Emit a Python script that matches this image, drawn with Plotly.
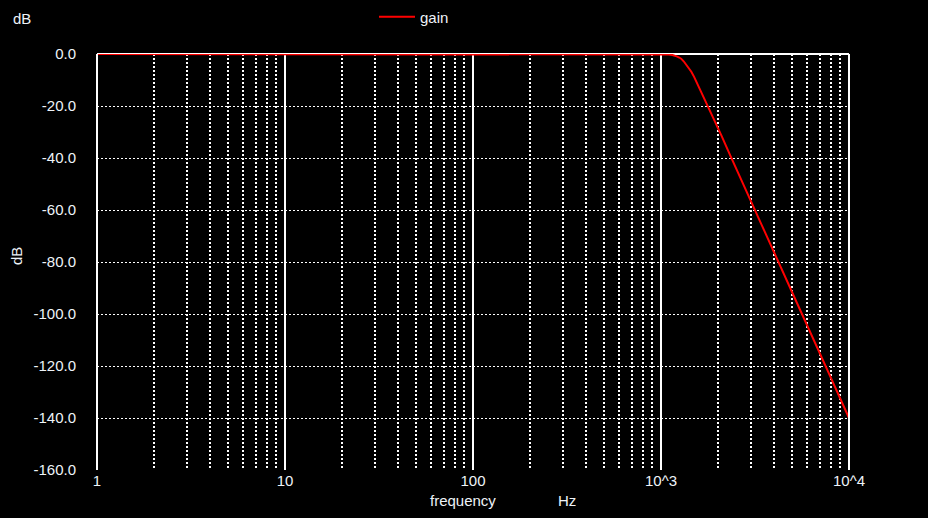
import plotly.graph_objects as go

# Frequency (Hz) and gain (dB)
frequency = [1, 10, 100, 500, 1000, 1100, 1150, 1180, 1212, 1250, 1280, 1320, 1370,
             1400, 1450, 1500, 1546, 1600, 1650, 1700, 1785, 1900, 1977, 2100,
             2328, 2600, 2974, 3646, 4120, 5597, 7447, 10000]
gain_db = [0.0, 0.0, 0.0, 0.0, -0.05, -0.2, -0.4, -0.55, -0.9, -1.35, -1.8, -2.8, -4.3,
           -5.0, -6.8, -8.8, -10.8, -12.9, -14.9, -16.9, -20.3, -24.6, -27.4, -31.5,
           -38.8, -46.4, -55.7, -70.0, -78.5, -99.7, -119.5, -140.0]

x_tick_vals = [1, 10, 100, 1000, 10000]
x_tick_text = ["1", "10", "100", "10^3", "10^4"]
y_tick_vals = [0, -20, -40, -60, -80, -100, -120, -140, -160]
y_tick_text = ["0.0", "-20.0", "-40.0", "-60.0", "-80.0", "-100.0", "-120.0", "-140.0", "-160.0"]

TXT = "#eef3f8"
FONT = "Liberation Sans, Arial, sans-serif"

fig = go.Figure()
fig.add_trace(go.Scatter(x=frequency, y=gain_db, mode="lines", name="gain",
                         line=dict(color="#ff0000", width=2)))

W, H = 928, 518
ml, mr, mt, mb = 97, 79, 54, 48
PW, PH = W - ml - mr, H - mt - mb

fig.update_layout(
    width=W, height=H,
    margin=dict(l=ml, r=mr, t=mt, b=mb),
    paper_bgcolor="black", plot_bgcolor="black",
    font=dict(family=FONT, size=15, color=TXT),
    showlegend=True,
    legend=dict(orientation="h", xref="container", yref="container",
                x=374 / W, xanchor="left", y=1 - 17 / H, yanchor="middle",
                itemwidth=36,
                bgcolor="rgba(0,0,0,0)", font=dict(size=15, color=TXT)),
    xaxis=dict(type="log", range=[0, 4], tickvals=x_tick_vals, ticktext=x_tick_text,
               showgrid=True, gridcolor="white", gridwidth=2,
               minor=dict(showgrid=True, gridcolor="white", gridwidth=2, griddash="2px,2px",
                          dtick="D1"),
               showline=False, ticks="", ticklabelstandoff=0, zeroline=False),
    yaxis=dict(range=[-160, 0], tickvals=y_tick_vals, ticktext=y_tick_text,
               showgrid=True, gridcolor="white", gridwidth=1.3, griddash="2px,2px",
               showline=False, ticks="", ticklabelstandoff=20, zeroline=False),
    shapes=[
        dict(type="line", xref="paper", yref="paper", x0=0, x1=0, y0=0, y1=1,
             line=dict(color="white", width=2)),
        dict(type="line", xref="paper", yref="paper", x0=1, x1=1, y0=0, y1=1,
             line=dict(color="white", width=2)),
        dict(type="line", xref="paper", yref="paper", x0=0, x1=1, y0=1, y1=1,
             line=dict(color="white", width=2), layer="below"),
    ],
    annotations=[
        dict(text="dB", xref="paper", yref="paper", x=(21.5 - ml) / PW,
             y=1 + (mt - 19) / PH, showarrow=False, xanchor="center",
             yanchor="middle", font=dict(size=15, color=TXT)),
        dict(text="dB", xref="paper", yref="paper", x=(16 - ml) / PW,
             y=1 - (256 - mt) / PH, showarrow=False, textangle=-90,
             xanchor="center", yanchor="middle", font=dict(size=15, color=TXT)),
        dict(text="frequency", xref="paper", yref="paper", x=(463 - ml) / PW,
             y=-(500 - (H - mb)) / PH, showarrow=False, xanchor="center",
             yanchor="middle", font=dict(size=15, color=TXT)),
        dict(text="Hz", xref="paper", yref="paper", x=(567 - ml) / PW,
             y=-(500 - (H - mb)) / PH, showarrow=False, xanchor="center",
             yanchor="middle", font=dict(size=15, color=TXT)),
    ],
)

fig.write_html(
    "out.html",
    config={"displayModeBar": False},
    post_script="document.body.style.margin='0';document.body.style.background='black';"
                "document.documentElement.style.overflow='hidden';",
)
